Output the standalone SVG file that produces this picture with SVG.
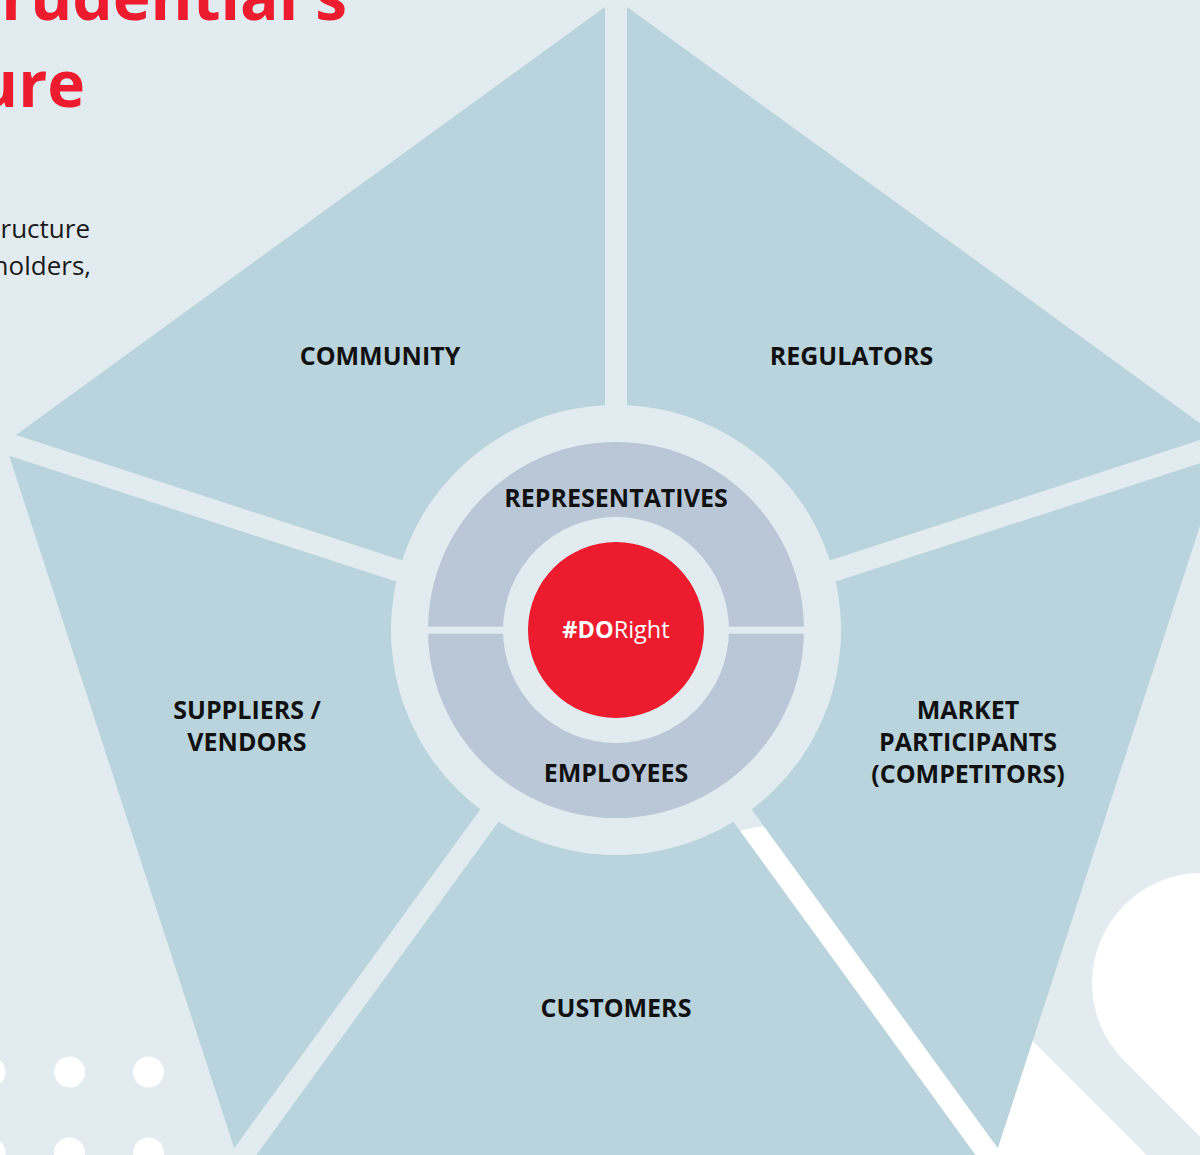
<svg xmlns="http://www.w3.org/2000/svg" width="1200" height="1155" viewBox="0 0 1200 1155">
  <style>
    .sector { fill: #b9d4dd; }
    .lbl { font-family: "Open Sans", "Noto Sans", "Liberation Sans", sans-serif; font-weight: 700; font-size: 25px; fill: #111111; text-anchor: middle; }
    .title { font-family: "Open Sans", "Noto Sans", "Liberation Sans", sans-serif; font-weight: 700; font-size: 64px; fill: #ed1b2e; text-anchor: end; }
    .body { font-family: "Open Sans", "Noto Sans", "Liberation Sans", sans-serif; font-weight: 400; font-size: 26px; fill: #1a1a1a; text-anchor: end; }
    .dot { fill: #ffffff; }
    .light { fill: #e2ebf0; }
  </style>
  <rect x="0" y="0" width="1200" height="1155" class="light"/>

  <!-- decorative background -->
  <g id="decor">
    <circle class="dot" cx="-10" cy="1072" r="15.5"/>
    <circle class="dot" cx="69.5" cy="1072" r="15.5"/>
    <circle class="dot" cx="148.5" cy="1072" r="15.5"/>
    <circle class="dot" cx="-10" cy="1153" r="15.5"/>
    <circle class="dot" cx="69.5" cy="1153" r="15.5"/>
    <circle class="dot" cx="148.5" cy="1153" r="15.5"/>
    <line x1="773" y1="934" x2="1300" y2="1461" stroke="#ffffff" stroke-width="216" stroke-linecap="round"/>
    <line x1="1202" y1="983" x2="1500" y2="1281" stroke="#ffffff" stroke-width="220" stroke-linecap="round"/>
  </g>

  <g id="title-text">
    <text class="title" x="347" y="20">Prudential's</text>
    <text class="title" x="85" y="107">ure</text>
    <text class="body" x="90" y="238">ructure</text>
    <text class="body" x="91" y="275">holders,</text>
  </g>

  <g id="community">
    <polygon class="sector" points="605,626.3 16,434.9 605,7"/>
    <text class="lbl" x="380" y="365">COMMUNITY</text>
  </g>
  <g id="regulators">
    <polygon class="sector" points="627,626.3 627,7 1216,434.9"/>
    <text class="lbl" x="851.5" y="365">REGULATORS</text>
  </g>
  <g id="market-participants">
    <polygon class="sector" points="633.8,647.2 1222.8,455.8 997.8,1148.3"/>
    <text class="lbl" x="968" y="719">MARKET</text>
    <text class="lbl" x="968" y="751">PARTICIPANTS</text>
    <text class="lbl" x="968" y="783">(COMPETITORS)</text>
  </g>
  <g id="customers">
    <polygon class="sector" points="616,660.1 980,1161.2 251.9,1161.1"/>
    <text class="lbl" x="616" y="1017">CUSTOMERS</text>
  </g>
  <g id="suppliers-vendors">
    <polygon class="sector" points="598.2,647.2 234.2,1148.3 9.2,455.8"/>
    <text class="lbl" x="247" y="719">SUPPLIERS /</text>
    <text class="lbl" x="247" y="751">VENDORS</text>
  </g>

  <g id="core">
    <circle class="light" cx="616" cy="630" r="225"/>
    <circle cx="616" cy="630" r="188" fill="#b9c7d7"/>
    <rect x="420" y="626.7" width="392" height="7" class="light"/>
    <circle class="light" cx="616" cy="630" r="113"/>
  </g>
  <g id="representatives">
    <text class="lbl" x="616" y="507">REPRESENTATIVES</text>
  </g>
  <g id="employees">
    <text class="lbl" x="616" y="782">EMPLOYEES</text>
  </g>
  <g id="doright">
    <circle cx="616" cy="630" r="88" fill="#ed1b2e"/>
    <text x="616" y="638" text-anchor="middle" font-family="'Open Sans', 'Noto Sans', 'Liberation Sans', sans-serif" font-size="23.5" fill="#ffffff"><tspan font-weight="700">#DO</tspan><tspan font-weight="400">Right</tspan></text>
  </g>
  <g id="connectors"></g>
</svg>
